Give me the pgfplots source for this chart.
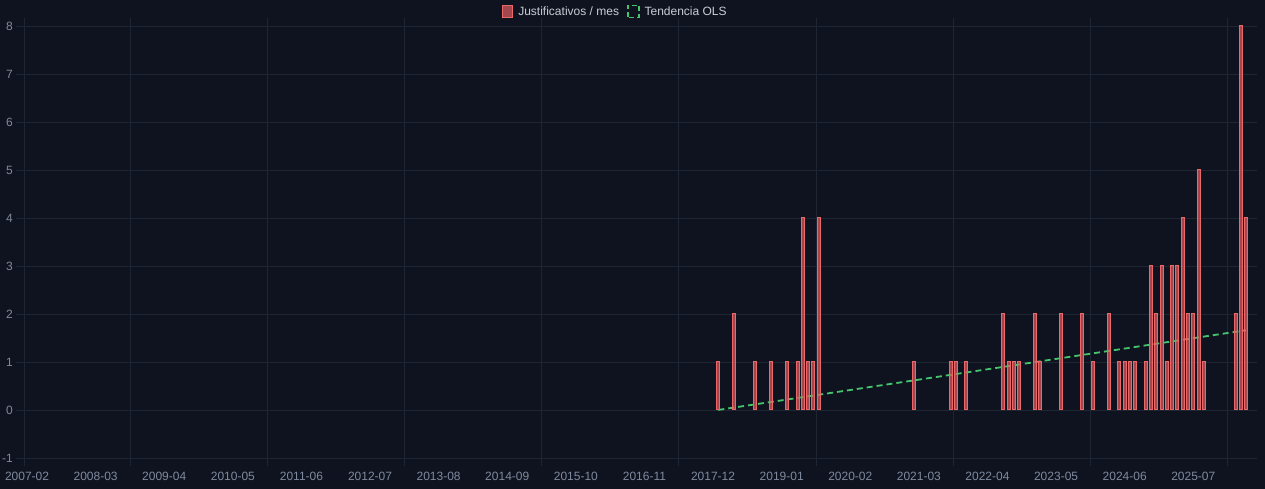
\documentclass[border=0pt]{standalone}
\usepackage{pgfplots}
\pgfplotsset{compat=1.18}
\usepackage{fontspec}
\setmainfont{Liberation Sans}
\definecolor{bg}{RGB}{14,19,31}
\definecolor{gridc}{RGB}{30,37,51}
\definecolor{tickc}{RGB}{128,138,158}
\definecolor{legc}{RGB}{200,205,214}
\definecolor{barfill}{RGB}{232,96,100}
\definecolor{barline}{RGB}{236,104,104}
\definecolor{trend}{RGB}{70,196,108}

\begin{document}
\begin{tikzpicture}
\useasboundingbox (0,0) rectangle (1265pt,489pt);
\fill[bg] (0,0) rectangle (1265pt,489pt);
\begin{axis}[
  at={(24.4pt,31pt)}, anchor=south west,
  scale only axis, width=1224.3pt, height=432pt,
  xmin=-0.5, xmax=231.5, ymin=-1, ymax=8,
  axis line style={draw=none},
  xtick={-0.5,19.5,45.5,71.5,97.5,123.5,149.5,175.5,201.5,227.5},
  xticklabels={},
  extra x ticks={0,13,...,221},
  extra x tick labels={2007-02,2008-03,2009-04,2010-05,2011-06,2012-07,2013-08,2014-09,2015-10,2016-11,2017-12,2019-01,2020-02,2021-03,2022-04,2023-05,2024-06,2025-07},
  extra x tick style={grid=none, major tick length=8pt, tick style={draw=none},
    xticklabel style={yshift=-3pt}},
  ytick={-1,0,...,8},
  yticklabels={-1,0,1,2,3,4,5,6,7,8},
  grid=major, major grid style={gridc, line width=0.8pt},
  tick align=outside, major tick length=8pt, tick style={gridc, line width=0.8pt},
  ticklabel style={font=\fontsize{12}{14}\selectfont, text=tickc},
  reverse legend,
  legend style={at={(rel axis cs:0.4828,1.0336)}, anchor=center, draw=none, fill=none,
    text=legc, font=\fontsize{12}{14}\selectfont, legend columns=2,
    /tikz/every odd column/.append style={column sep=3pt},
    /tikz/every even column/.append style={column sep=6pt}},
  legend cell align=left,
]
\addplot[trend, line width=1.8pt, dash pattern=on 6pt off 4pt,
  legend image code/.code={\draw[trend, line width=1.6pt, dash pattern=on 5pt off 3pt] (0pt,-6pt) rectangle (11pt,6pt);}]
  coordinates {(131,0.002) (231,1.662)};
\addplot[ybar, bar width=3pt, fill=barfill, fill opacity=0.68, draw=barline, line width=1pt,
  legend image code/.code={\draw[fill=barfill, fill opacity=0.68, draw=barline, line width=1pt] (0pt,-6pt) rectangle (10pt,6pt);}]
  coordinates {
  (131,1) (134,2) (138,1) (141,1) (144,1) (146,1) (147,4) (148,1) (149,1) (150,4)
  (168,1) (175,1) (176,1) (178,1) (185,2) (186,1) (187,1) (188,1) (191,2) (192,1)
  (196,2) (200,2) (202,1) (205,2) (207,1) (208,1) (209,1) (210,1) (212,1) (213,3)
  (214,2) (215,3) (216,1) (217,3) (218,3) (219,4) (220,2) (221,2) (222,5) (223,1)
  (229,2) (230,8) (231,4)
  };
\legend{Tendencia OLS, Justificativos / mes}
\end{axis}
\end{tikzpicture}
\end{document}
